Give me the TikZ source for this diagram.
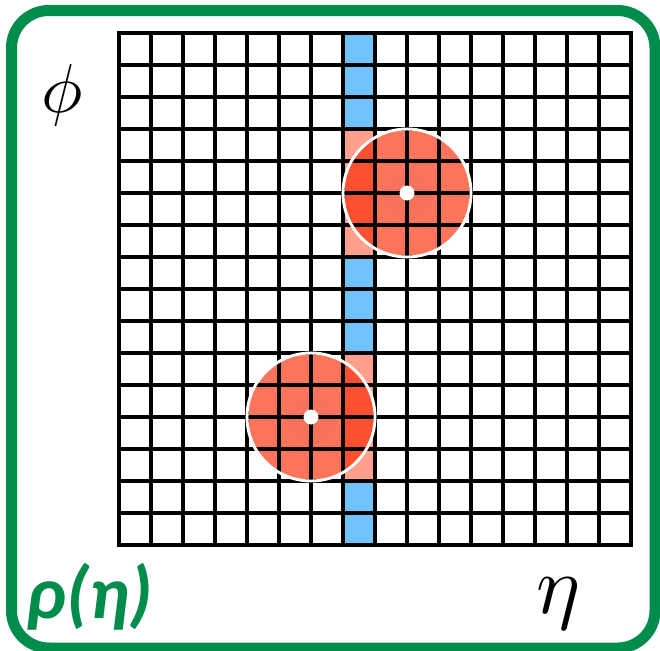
\documentclass[tikz,border=0pt]{standalone}
\usepackage{fontspec}
\usepackage{graphicx}
\newfontfamily\lblfont{Carlito}
\definecolor{bordergreen}{RGB}{0,140,75}
\definecolor{colblue}{RGB}{112,195,250}
\definecolor{colpink}{RGB}{255,160,142}
\definecolor{circfill}{RGB}{255,117,92}
\definecolor{circcenter}{RGB}{242,113,91}
\definecolor{colred}{RGB}{255,80,50}
\tikzset{
  gridline/.style={black, line width=2.6pt, line cap=rect},
  ringline/.style={white, line width=2.2pt},
  frameline/.style={bordergreen, line width=8.25pt, rounded corners=28pt},
  axislabel/.style={inner sep=0pt, text=black},
}
\begin{document}
\begin{tikzpicture}[x=0.75pt,y=-0.75pt]
\useasboundingbox (0,0) rectangle (660,650);
\fill[white] (0,0) rectangle (660,650);
% highlighted column
\fill[colblue] (343,33) rectangle (375,545);
\fill[colpink] (343,129) rectangle (375,257);
\fill[colpink] (343,353) rectangle (375,481);
% circles
\coordinate (c1) at (407,193);
\coordinate (c2) at (311,417);
\foreach \c in {c1,c2} {
  \fill[circfill] (\c) circle (64);
  \shade[inner color=circcenter, outer color=circfill] (\c) circle (42);
  \begin{scope}
    \clip (\c) circle (64);
    \fill[colred] (343,33) rectangle (375,545);
  \end{scope}
}
% grid
\foreach \i in {0,...,16} {
  \draw[gridline] ({119+32*\i},33) -- ({119+32*\i},545);
  \draw[gridline] (119,{33+32*\i}) -- (631,{33+32*\i});
}
% rings and centre dots
\foreach \c in {c1,c2} {
  \draw[ringline] (\c) circle (64);
  \fill[white] (\c) circle (7.5);
}
% frame
\draw[frameline] (11.5,10.5) rectangle (655,648);
% labels
\node[axislabel] (phi) at (62,95) {\scalebox{5.2}{$\phi$}};
\node[axislabel] (eta) at (558,604) {\scalebox{6.2}{$\eta$}};
\node[inner sep=0pt, text=bordergreen] (rho) at (90,597) {\lblfont\bfseries\itshape\fontsize{56}{56}\selectfont ρ(η)};
\end{tikzpicture}
\end{document}
